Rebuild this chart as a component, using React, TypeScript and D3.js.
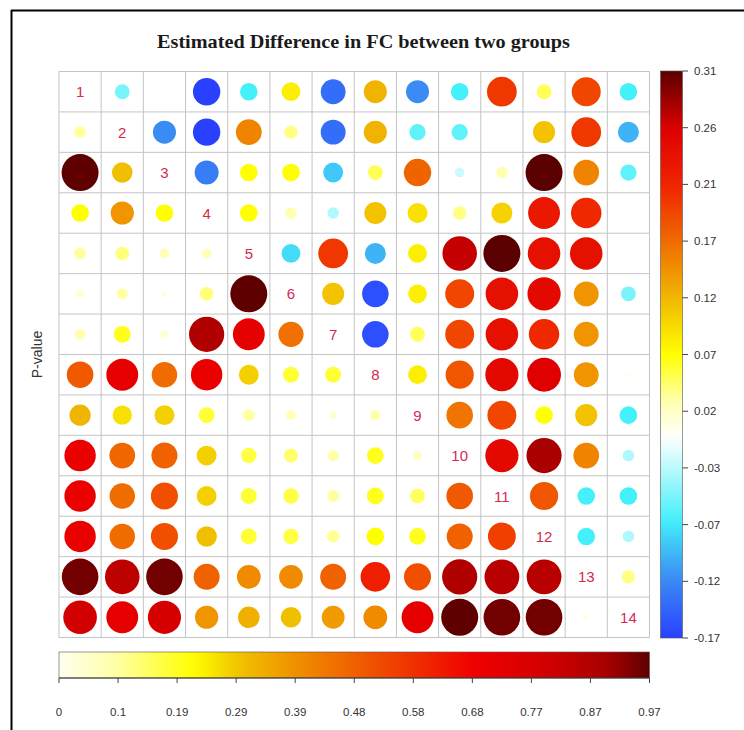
import React from 'react';
import * as d3 from 'd3';

// Upper triangle: estimated difference, row i lists columns i+1..14
const diffRows: number[][] = [
  [-0.05, 0.0, -0.17, -0.07, 0.08, -0.14, 0.12, -0.12, -0.07, 0.2, 0.05, 0.19, -0.07],
  [-0.12, -0.17, 0.15, 0.04, -0.14, 0.12, -0.06, -0.06, 0.0, 0.11, 0.2, -0.1],
  [-0.13, 0.07, 0.07, -0.09, 0.05, 0.17, -0.02, 0.03, 0.31, 0.15, -0.06],
  [0.07, 0.03, -0.03, 0.11, 0.09, 0.04, 0.1, 0.23, 0.21, 0.005],
  [-0.08, 0.2, -0.1, 0.08, 0.27, 0.31, 0.24, 0.24, 0.004],
  [0.11, -0.16, 0.08, 0.19, 0.24, 0.25, 0.14, -0.05],
  [-0.16, 0.05, 0.19, 0.24, 0.21, 0.14, 0.004],
  [0.08, 0.18, 0.25, 0.26, 0.14, 0.006],
  [0.16, 0.19, 0.07, 0.11, -0.07],
  [0.25, 0.28, 0.15, -0.03],
  [0.18, -0.07, -0.07],
  [-0.07, -0.03],
  [0.04],
  [],
];

// Lower triangle: P-value, row i lists columns 1..i-1
const pRows: number[][] = [
  [],
  [0.1],
  [0.97, 0.3],
  [0.22, 0.38, 0.22],
  [0.1, 0.13, 0.07, 0.07],
  [0.04, 0.09, 0.02, 0.13, 0.97],
  [0.08, 0.2, 0.04, 0.88, 0.72, 0.45],
  [0.5, 0.72, 0.46, 0.7, 0.28, 0.18, 0.18],
  [0.32, 0.26, 0.28, 0.18, 0.1, 0.07, 0.04, 0.08],
  [0.7, 0.47, 0.48, 0.28, 0.17, 0.14, 0.09, 0.2, 0.06],
  [0.7, 0.46, 0.52, 0.28, 0.18, 0.17, 0.1, 0.2, 0.15, 0.5],
  [0.7, 0.46, 0.52, 0.3, 0.18, 0.17, 0.11, 0.22, 0.2, 0.48, 0.55],
  [0.95, 0.85, 0.95, 0.48, 0.4, 0.4, 0.48, 0.62, 0.52, 0.88, 0.86, 0.86],
  [0.8, 0.72, 0.78, 0.38, 0.33, 0.3, 0.37, 0.4, 0.72, 0.97, 0.95, 0.95, 0.02],
];

const labels = d3.range(1, 15).map(String);
const diffTicks = ['0.31', '0.26', '0.21', '0.17', '0.12', '0.07', '0.02', '-0.03', '-0.07', '-0.12', '-0.17'];
const pTicks = ['0', '0.1', '0.19', '0.29', '0.39', '0.48', '0.58', '0.68', '0.77', '0.87', '0.97'];

const diffMin = -0.17;
const diffMax = 0.31;
const pMax = 0.97;

const diffColor = d3
  .scaleLinear<string>()
  .domain([-0.17, -0.12, -0.07, -0.03, 0, 0.03, 0.07, 0.12, 0.17, 0.21, 0.26, 0.31])
  .range(['#2a40ff', '#3a8cf4', '#44f0fa', '#b0f8fc', '#ffffff', '#ffffb0', '#ffff00', '#f0b400', '#f06400', '#f02800', '#e00000', '#5a0000'])
  .clamp(true);

const pColor = d3
  .scaleLinear<string>()
  .domain([0, 0.1, 0.22, 0.3, 0.42, 0.55, 0.68, 0.8, 0.9, 0.97])
  .range(['#fffff0', '#ffffa0', '#ffff00', '#f0c000', '#f08000', '#f04000', '#f00000', '#d20000', '#a80000', '#5e0000'])
  .clamp(true);

const gridX0 = 59;
const gridX1 = 649.5;
const gridY0 = 71.5;
const gridY1 = 637.5;
const maxR = 18.5;

export default function App() {
  const x = d3.scaleBand<string>().domain(labels).range([gridX0, gridX1]);
  const y = d3.scaleBand<string>().domain(labels).range([gridY0, gridY1]);
  const rDiff = d3.scaleSqrt().domain([0, diffMax]).range([0, maxR]);
  const rP = d3.scaleSqrt().domain([0, pMax]).range([0, maxR]);

  const vBar = d3.scaleLinear().domain([0, diffTicks.length - 1]).range([71, 638]);
  const hBar = d3.scaleLinear().domain([0, pTicks.length - 1]).range([gridX0, gridX1]);

  const cells: { key: string; cx: number; cy: number; r: number; fill: string }[] = [];
  diffRows.forEach((row, i) => {
    row.forEach((v, k) => {
      const j = i + 1 + k;
      cells.push({
        key: `u${i}-${j}`,
        cx: x(labels[j])! + x.bandwidth() / 2,
        cy: y(labels[i])! + y.bandwidth() / 2,
        r: rDiff(Math.abs(v)),
        fill: diffColor(v),
      });
    });
  });
  pRows.forEach((row, i) => {
    row.forEach((v, j) => {
      cells.push({
        key: `l${i}-${j}`,
        cx: x(labels[j])! + x.bandwidth() / 2,
        cy: y(labels[i])! + y.bandwidth() / 2,
        r: rP(v),
        fill: pColor(v),
      });
    });
  });

  const diffStops = d3.range(0, 1.0001, 0.02).map((t) => ({
    t,
    c: diffColor(diffMax - t * (diffMax - diffMin)),
  }));
  const pStops = d3.range(0, 1.0001, 0.02).map((t) => ({ t, c: pColor(t * pMax) }));

  const tickFont = { fontFamily: 'Arial, "Liberation Sans", sans-serif', fontSize: 11.5, fill: '#333' };

  return (
    <svg width={744} height={730} style={{ display: 'block', position: 'absolute', left: 0, top: 0 }}>
      <rect x={0} y={0} width={744} height={730} fill="#fff" />
      <defs>
        <linearGradient id="diffGrad" x1="0" y1="0" x2="0" y2="1">
          {diffStops.map((s) => (
            <stop key={s.t} offset={s.t} stopColor={s.c} />
          ))}
        </linearGradient>
        <linearGradient id="pGrad" x1="0" y1="0" x2="1" y2="0">
          {pStops.map((s) => (
            <stop key={s.t} offset={s.t} stopColor={s.c} />
          ))}
        </linearGradient>
      </defs>

      {/* outer frame */}
      <line x1={11} y1={10.5} x2={744} y2={10.5} stroke="#000" strokeWidth={2} />
      <line x1={11.5} y1={10} x2={11.5} y2={730} stroke="#000" strokeWidth={2} />

      <text
        x={363.5}
        y={48}
        textAnchor="middle"
        textLength={413}
        lengthAdjust="spacingAndGlyphs"
        style={{ fontFamily: '"Liberation Serif", "Times New Roman", serif', fontWeight: 'bold', fontSize: 19.5, fill: '#1a1a1a' }}
      >
        Estimated Difference in FC between two groups
      </text>

      {/* grid */}
      {d3.range(0, 15).map((k) => {
        const gx = k < 14 ? x(labels[k])! : gridX1;
        return <line key={`gv${k}`} x1={gx} x2={gx} y1={gridY0} y2={gridY1} stroke="#c4c4c4" strokeWidth={1} />;
      })}
      {d3.range(0, 15).map((k) => {
        const gy = k < 14 ? y(labels[k])! : gridY1;
        return <line key={`gh${k}`} x1={gridX0} x2={gridX1} y1={gy} y2={gy} stroke="#c4c4c4" strokeWidth={1} />;
      })}

      {cells.map((c) => (
        <circle key={c.key} cx={c.cx} cy={c.cy} r={c.r} fill={c.fill} />
      ))}

      {labels.map((l) => (
        <text
          key={`d${l}`}
          x={x(l)! + x.bandwidth() / 2}
          y={y(l)! + y.bandwidth() / 2 + 5.5}
          textAnchor="middle"
          style={{ fontFamily: 'Arial, "Liberation Sans", sans-serif', fontSize: 15, fill: '#d42a50' }}
        >
          {l}
        </text>
      ))}

      <text
        transform={`translate(42,${(gridY0 + gridY1) / 2}) rotate(-90)`}
        textAnchor="middle"
        style={{ fontFamily: 'Arial, "Liberation Sans", sans-serif', fontSize: 14, fill: '#333' }}
      >
        P-value
      </text>

      {/* vertical colour bar */}
      <rect x={660.5} y={71} width={22} height={567} fill="url(#diffGrad)" stroke="#555" strokeWidth={0.6} />
      {diffTicks.map((t, k) => (
        <g key={`vt${k}`}>
          <line x1={682.5} x2={688} y1={vBar(k)} y2={vBar(k)} stroke="#444" strokeWidth={1} />
          <text x={694} y={vBar(k) + 4} style={tickFont}>
            {t}
          </text>
        </g>
      ))}

      {/* horizontal colour bar */}
      <rect x={gridX0} y={652} width={gridX1 - gridX0} height={26} fill="url(#pGrad)" stroke="#555" strokeWidth={0.6} />
      <line x1={gridX0} x2={gridX1} y1={678} y2={678} stroke="#333" strokeWidth={1} />
      {pTicks.map((t, k) => (
        <g key={`ht${k}`}>
          <line x1={hBar(k)} x2={hBar(k)} y1={678} y2={683} stroke="#444" strokeWidth={1} />
          <text x={hBar(k)} y={716} textAnchor="middle" style={tickFont}>
            {t}
          </text>
        </g>
      ))}
    </svg>
  );
}
